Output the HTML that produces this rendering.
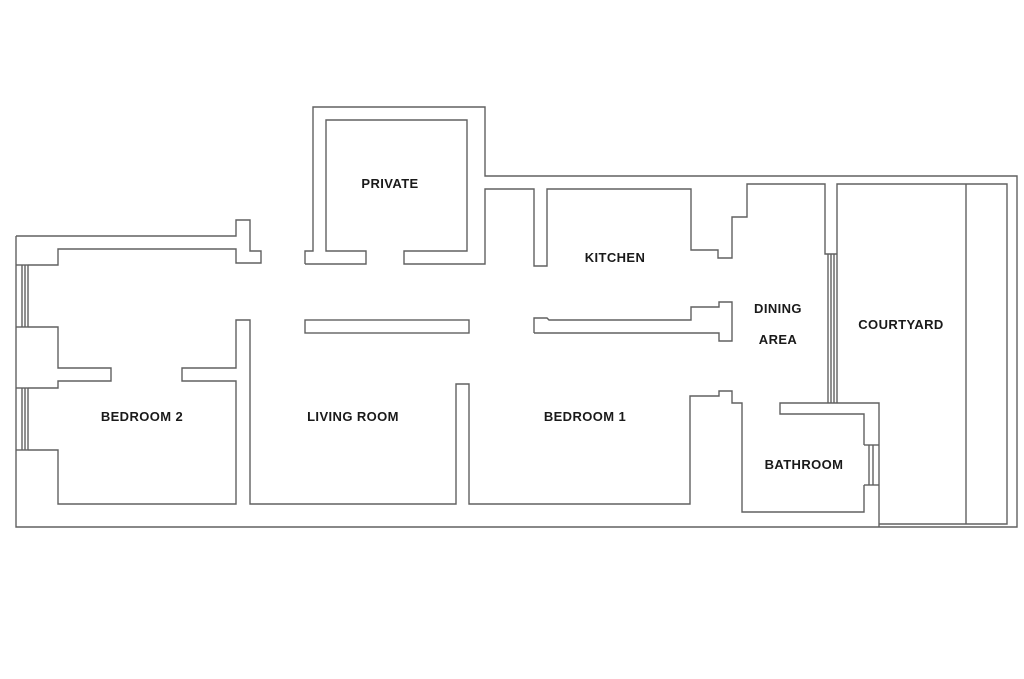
<!DOCTYPE html>
<html><head><meta charset="utf-8"><style>
html,body{margin:0;padding:0;background:#fff;}
svg{display:block;}
text{font-family:"Liberation Sans",Arial,sans-serif;font-weight:bold;font-size:13px;fill:#1a1a1a;text-anchor:middle;letter-spacing:0.4px;}
</style></head><body>
<svg width="1024" height="679" viewBox="0 0 1024 679" xmlns="http://www.w3.org/2000/svg">
<g fill="none" stroke="#606060" stroke-width="1.4">
<polyline points="16,236 236,236 236,220 250,220 250,251 261,251 261,263 236,263 236,249 58,249 58,265 28,265"/>
<polyline points="305,264 305,251 313,251 313,107 485,107 485,176 1017,176 1017,527 16,527 16,236"/>
<polyline points="28,265 28,327"/><line x1="22" y1="265" x2="22" y2="327"/><line x1="25" y1="265" x2="25" y2="327"/>
<polyline points="28,327 58,327 58,368 111,368 111,381 58,381 58,388 28,388"/>
<line x1="28" y1="388" x2="28" y2="450"/><line x1="22" y1="388" x2="22" y2="450"/><line x1="25" y1="388" x2="25" y2="450"/>
<line x1="16" y1="265" x2="28" y2="265"/><line x1="16" y1="327" x2="28" y2="327"/>
<line x1="16" y1="388" x2="28" y2="388"/><line x1="16" y1="450" x2="28" y2="450"/>
<polyline points="28,450 58,450 58,504 236,504 236,381 182,381 182,368 236,368 236,320 250,320 250,504 456,504 456,384 469,384 469,504 690,504 690,396 719,396 719,391 732,391 732,403 742,403 742,512 864,512 864,485"/>
<polyline points="864,445 864,414 780,414 780,403 879,403 879,527"/>
<line x1="864" y1="445" x2="879" y2="445"/><line x1="864" y1="485" x2="879" y2="485"/>
<line x1="869" y1="445" x2="869" y2="485"/><line x1="873" y1="445" x2="873" y2="485"/>
<polyline points="837,403 837,184 1007,184 1007,524 879,524"/>
<line x1="966" y1="184" x2="966" y2="524"/>
<polyline points="837,254 825,254 825,184 747,184 747,217 732,217 732,258 718,258 718,250 691,250 691,189 547,189 547,266 534,266 534,189 485,189 485,264 404,264 404,251 467,251 467,120 326,120 326,251 366,251 366,264 305,264"/>
<line x1="828" y1="254" x2="828" y2="403"/><line x1="831" y1="254" x2="831" y2="403"/><line x1="834" y1="254" x2="834" y2="403"/>
<rect x="305" y="320" width="164" height="13"/>
<polyline points="534,333 534,318 547,318 549,320 691,320 691,307 719,307 719,302 732,302 732,341 719,341 719,333 534,333"/>
</g>
<text x="390" y="188">PRIVATE</text>
<text x="615" y="262">KITCHEN</text>
<text x="778" y="313">DINING</text>
<text x="778" y="344">AREA</text>
<text x="901" y="329">COURTYARD</text>
<text x="142" y="421">BEDROOM 2</text>
<text x="353" y="421">LIVING ROOM</text>
<text x="585" y="421">BEDROOM 1</text>
<text x="804" y="469">BATHROOM</text>
</svg>
</body></html>
